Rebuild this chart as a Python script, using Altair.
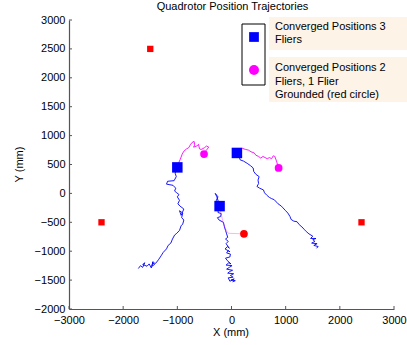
import altair as alt
import pandas as pd

# Anchor beacons on the floor (mm)
anchor_x = [-1500, -2400, 2400]
anchor_y = [2500, -500, -500]

# Converged positions with all three fliers airborne
conv3_x = [-1000, 100, -220]
conv3_y = [450, 700, -220]

# Converged positions after one flier was grounded
conv2_x = [-507, 870]
conv2_y = [680, 440]
grounded_x = [230]
grounded_y = [-700]

# Blue tracks: three fliers converging
left_x = [-1720, -1680, -1640, -1600, -1640, -1560, -1520, -1480, -1450, -1470, -1420,
          -1460, -1400, -1350, -1300, -1260, -1200, -1170, -1120, -1090, -1050, -1010,
          -960, -930, -900, -880, -920, -900, -960, -930, -880, -950, -990, -960, -1000,
          -970, -1010, -1050, -1030, -1080, -1200, -1180, -1060, -1020, -1040, -1010]
left_y = [-1300, -1250, -1280, -1200, -1230, -1260, -1220, -1290, -1180, -1260, -1230,
          -1200, -1210, -1150, -1080, -1020, -960, -900, -860, -790, -720, -690,
          -640, -560, -530, -460, -420, -340, -300, -380, -270, -220, -180, -120, -60,
          -20, 10, 40, 90, 140, 160, 210, 220, 290, 350, 450]

mid_x = [20, 70, -10, 50, -30, -60, 30, -20, 40, -70, -30, 20, -90, -40, 10, -100, -50,
         -10, -80, -110, -30, -20, -90, -60, -30, -120, -70, -40, -100, -60, -110, -70,
         -90, -110, -130, -150, -230, -260, -200, -190, -250, -240, -270, -280, -250,
         -300, -270, -240, -220]
mid_y = [-1530, -1510, -1500, -1480, -1520, -1460, -1450, -1420, -1390, -1380, -1350,
         -1330, -1310, -1280, -1250, -1240, -1200, -1220, -1160, -1120, -1100, -1050,
         -1030, -990, -1010, -960, -920, -950, -870, -830, -790, -760, -700, -640, -580,
         -500, -460, -420, -400, -350, -330, -270, -200, -120, -60, 0, -60, -150, -220]

right_x = [1570, 1600, 1520, 1580, 1480, 1540, 1500, 1560, 1460, 1500, 1430, 1380, 1340,
           1300, 1250, 1210, 1150, 1100, 1080, 1040, 1000, 950, 920, 860, 830, 790, 740,
           700, 650, 610, 590, 520, 470, 500, 490, 510, 450, 410, 400, 350, 290, 220, 160,
           140, 100]
right_y = [-950, -920, -900, -870, -860, -830, -800, -780, -780, -740, -700, -660, -620,
           -580, -540, -490, -480, -450, -400, -340, -300, -250, -220, -180, -150, -110,
           -90, -70, -30, 10, 60, 90, 120, 170, 230, 290, 330, 380, 440, 480, 520, 560,
           580, 640, 700]

# Magenta tracks: two remaining fliers re-converging
mleft_x = [-1000, -980, -950, -910, -880, -830, -790, -760, -730, -690, -680, -700, -640,
           -610, -590, -560, -500, -460, -420, -470, -507]
mleft_y = [450, 520, 580, 680, 730, 770, 790, 840, 880, 900, 840, 800, 820, 850, 770, 760,
           790, 820, 800, 740, 680]

mright_x = [100, 150, 200, 260, 310, 360, 420, 450, 500, 540, 580, 620, 660, 700, 740, 770,
            800, 830, 870]
mright_y = [700, 760, 780, 760, 750, 720, 700, 660, 640, 610, 640, 620, 600, 620, 600, 650,
            640, 560, 440]

# Grounded flier's descent
mdown_x = [-220, -190, -160, -120, -60, 230]
mdown_y = [-220, -360, -480, -600, -690, -700]

x_ticks = [-3000, -2000, -1000, 0, 1000, 2000, 3000]
y_ticks = [-2000, -1500, -1000, -500, 0, 500, 1000, 1500, 2000, 2500, 3000]

FONT = "Liberation Sans"
AXIS_GRAY = "#555555"


def track_frame(tracks):
    rows = []
    for name, xs_, ys_ in tracks:
        for i, (a, b) in enumerate(zip(xs_, ys_)):
            rows.append({"track": name, "i": i, "x": a, "y": b})
    return pd.DataFrame(rows)


blue_df = track_frame([("left", left_x, left_y), ("mid", mid_x, mid_y),
                       ("right", right_x, right_y)])
mag_df = track_frame([("mleft", mleft_x, mleft_y), ("mright", mright_x, mright_y)])
down_df = track_frame([("mdown", mdown_x, mdown_y)])

xs = alt.Scale(domain=[-3000, 3000], nice=False, zero=False)
ys = alt.Scale(domain=[-2000, 3000], nice=False, zero=False)

x_axis = alt.Axis(values=x_ticks, ticks=False, grid=False, title=None, labelFont=FONT,
                  labelFontSize=11, labelColor="black", labelPadding=5,
                  domainColor=AXIS_GRAY, domainWidth=1.2, format="d", labelFlush=False)
y_axis = alt.Axis(values=y_ticks, ticks=False, grid=False, title=None, labelFont=FONT,
                  labelFontSize=11, labelColor="black", labelPadding=4,
                  domainColor=AXIS_GRAY, domainWidth=1.2, format="d", labelFlush=False)


def X(field):
    return alt.X(field, scale=xs, axis=x_axis)


def Y(field):
    return alt.Y(field, scale=ys, axis=y_axis)


blue = alt.Chart(blue_df).mark_line(color="#0000ff", strokeWidth=0.9).encode(
    x=X("x:Q"), y=Y("y:Q"), detail="track:N", order="i:Q")

magenta = alt.Chart(mag_df).mark_line(color="#ff00ff", strokeWidth=0.9).encode(
    x=X("x:Q"), y=Y("y:Q"), detail="track:N", order="i:Q")

descent = alt.Chart(down_df).mark_line(color="#ff00ff", strokeWidth=0.9, opacity=0.35).encode(
    x=X("x:Q"), y=Y("y:Q"), order="i:Q")


def points(px, py, shape, color, size):
    df = pd.DataFrame({"x": px, "y": py})
    return alt.Chart(df).mark_point(shape=shape, filled=True, color=color, size=size,
                                    opacity=1).encode(x=X("x:Q"), y=Y("y:Q"))


anchors = points(anchor_x, anchor_y, "square", "#ff0000", 40)
conv3 = points(conv3_x, conv3_y, "square", "#0000ff", 110)
conv2 = points(conv2_x, conv2_y, "circle", "#ff00ff", 60)
grounded = points(grounded_x, grounded_y, "circle", "#ff0000", 60)

# Inward tick marks, MATLAB style
xtick_marks = alt.Chart(pd.DataFrame({"v": x_ticks})).mark_rule(
    color=AXIS_GRAY, strokeWidth=1).encode(
    x=X("v:Q"), y=alt.value(289), y2=alt.value(286))
ytick_marks = alt.Chart(pd.DataFrame({"v": y_ticks})).mark_rule(
    color=AXIS_GRAY, strokeWidth=1).encode(
    y=Y("v:Q"), x=alt.value(0), x2=alt.value(3))

one = alt.Data(values=[{}])


def label(text, x, y, angle=0, align="center"):
    return alt.Chart(one).mark_text(text=text, font=FONT, fontSize=11, color="black",
                                    align=align, baseline="middle", angle=angle).encode(
        x=alt.value(x), y=alt.value(y))


title = label("Quadrotor Position Trajectories", 163.5, -13)
xlabel = label("X (mm)", 162, 313)
ylabel = label("Y (mm)", -49, 144.5, angle=270)

# Legend: framed key box with shaded caption boxes beside it
legend_frame = alt.Chart(one).mark_rect(fill="white", stroke="black", strokeWidth=1).encode(
    x=alt.value(173), x2=alt.value(196), y=alt.value(4), y2=alt.value(65))
caption_bg1 = alt.Chart(one).mark_rect(fill="#fdf3e7").encode(
    x=alt.value(200), x2=alt.value(338), y=alt.value(-3), y2=alt.value(30))
caption_bg2 = alt.Chart(one).mark_rect(fill="#fdf3e7").encode(
    x=alt.value(200), x2=alt.value(338), y=alt.value(37), y2=alt.value(82))
key_square = alt.Chart(one).mark_point(shape="square", filled=True, color="#0000ff",
                                       size=95, opacity=1).encode(
    x=alt.value(185), y=alt.value(17))
key_circle = alt.Chart(one).mark_point(shape="circle", filled=True, color="#ff00ff",
                                       size=100, opacity=1).encode(
    x=alt.value(185), y=alt.value(50))
cap_lines = [
    label("Converged Positions 3", 206, 6.5, align="left"),
    label("Fliers", 206, 20, align="left"),
    label("Converged Positions 2", 206, 48, align="left"),
    label("Fliers, 1 Flier", 206, 61.5, align="left"),
    label("Grounded (red circle)", 206, 74.5, align="left"),
]

chart = alt.layer(
    blue, magenta, descent, anchors, conv3, conv2, grounded,
    xtick_marks, ytick_marks, title, xlabel, ylabel,
    legend_frame, caption_bg1, caption_bg2, key_square, key_circle, *cap_lines
).properties(
    width=325, height=289,
    autosize=alt.AutoSizeParams(type="none"),
    padding={"left": 69, "top": 20, "right": 13, "bottom": 36},
    background="white",
).configure_view(stroke=None)

chart.save("out.html", embed_options={"renderer": "svg", "actions": False})
